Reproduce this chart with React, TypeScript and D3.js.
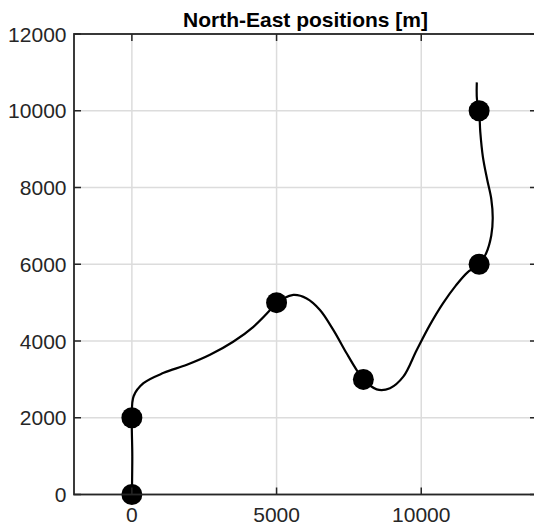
import React, { useEffect, useRef } from "react";
import * as d3 from "d3";

// Waypoints (East, North) [m]
const wpEast = [0, 0, 5000, 8000, 12000, 12000];
const wpNorth = [0, 2000, 5000, 3000, 6000, 10000];

// Trajectory samples (East, North) [m]
const pathEast = [0, 15, 0, 60, 400, 1100, 1900, 2700, 3500, 4200, 4880, 5000, 5580, 6040, 6500, 6960, 7420, 7770, 8000, 8460, 8920, 9380, 9840, 10300, 10750, 11200, 11600, 12000, 12250, 12420, 12470, 12420, 12280, 12130, 12040, 12000, 11925, 11920];
const pathNorth = [0, 1000, 2000, 2560, 2900, 3170, 3380, 3640, 3980, 4370, 4890, 5000, 5200, 5110, 4810, 4290, 3680, 3240, 3000, 2740, 2770, 3070, 3760, 4420, 4980, 5450, 5790, 6000, 6300, 6750, 7200, 7700, 8200, 8800, 9450, 10000, 10300, 10740];

const xTicks = [0, 5000, 10000];
const yTicks = [0, 2000, 4000, 6000, 8000, 10000, 12000];
const xDomain = [-2000, 14000];
const yDomain = [0, 12000];
const title = "North-East positions [m]";

export default function App() {
  const ref = useRef<SVGSVGElement>(null);

  useEffect(() => {
    const svg = d3.select(ref.current);
    svg.selectAll("*").remove();

    const left = 74, right = 537, top = 34, bottom = 494.5;
    const x = d3.scaleLinear().domain(xDomain).range([left, right]);
    const y = d3.scaleLinear().domain(yDomain).range([bottom, top]);
    const axisColor = "#262626";
    const font = "Arial, 'Liberation Sans', Helvetica, sans-serif";
    const fs = 21;

    svg.append("rect").attr("x", left).attr("y", top).attr("width", right - left).attr("height", bottom - top).attr("fill", "#fff");

    // grid
    const g = svg.append("g");
    g.selectAll("line.gx").data(xTicks).join("line")
      .attr("x1", d => x(d)).attr("x2", d => x(d)).attr("y1", top).attr("y2", bottom)
      .attr("stroke", "#dcdcdc").attr("stroke-width", 1.5);
    g.selectAll("line.gy").data(yTicks).join("line")
      .attr("x1", left).attr("x2", right).attr("y1", d => y(d)).attr("y2", d => y(d))
      .attr("stroke", "#dcdcdc").attr("stroke-width", 1.5);

    // trajectory
    const pts: [number, number][] = pathEast.map((e, i) => [e, pathNorth[i]]);
    const line = d3.line<[number, number]>()
      .x(d => x(d[0])).y(d => y(d[1]))
      .curve(d3.curveCatmullRom.alpha(0.5));
    svg.append("path").attr("d", line(pts) || "").attr("fill", "none")
      .attr("stroke", "#000").attr("stroke-width", 2.2).attr("stroke-linejoin", "round");

    // waypoints
    svg.selectAll("circle.wp").data(wpEast.map((e, i) => [e, wpNorth[i]])).join("circle")
      .attr("cx", d => x(d[0])).attr("cy", d => y(d[1])).attr("r", 10.5).attr("fill", "#000");

    // box
    svg.append("rect").attr("x", left).attr("y", top).attr("width", right - left).attr("height", bottom - top)
      .attr("fill", "none").attr("stroke", axisColor).attr("stroke-width", 1.8);

    const tl = 7;
    xTicks.forEach(t => {
      svg.append("line").attr("x1", x(t)).attr("x2", x(t)).attr("y1", bottom).attr("y2", bottom - tl).attr("stroke", axisColor).attr("stroke-width", 1.5);
      svg.append("line").attr("x1", x(t)).attr("x2", x(t)).attr("y1", top).attr("y2", top + tl).attr("stroke", axisColor).attr("stroke-width", 1.5);
      svg.append("text").attr("x", x(t)).attr("y", bottom + 27).attr("text-anchor", "middle")
        .attr("font-family", font).attr("font-size", fs).attr("fill", axisColor).text(String(t));
    });
    yTicks.forEach(t => {
      svg.append("line").attr("x1", left).attr("x2", left + tl).attr("y1", y(t)).attr("y2", y(t)).attr("stroke", axisColor).attr("stroke-width", 1.5);
      svg.append("line").attr("x1", right).attr("x2", right - tl).attr("y1", y(t)).attr("y2", y(t)).attr("stroke", axisColor).attr("stroke-width", 1.5);
      svg.append("text").attr("x", left - 7.5).attr("y", y(t) + 7.5).attr("text-anchor", "end")
        .attr("font-family", font).attr("font-size", fs).attr("fill", axisColor).text(String(t));
    });

    svg.append("text").attr("x", (left + right) / 2).attr("y", 27).attr("text-anchor", "middle")
      .attr("font-family", font).attr("font-weight", "bold").attr("font-size", fs).attr("fill", "#000").text(title);
  }, []);

  return (
    <svg ref={ref} width={534} height={524} style={{ position: "absolute", left: 0, top: 0, background: "#fff" }} />
  );
}
